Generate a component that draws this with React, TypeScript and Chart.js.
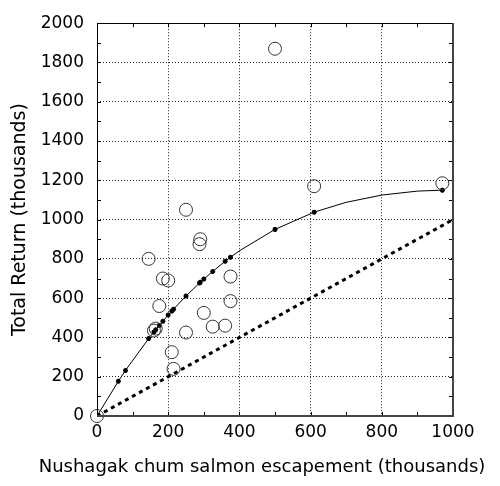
import React, { useEffect, useRef } from "react";
import { Chart, registerables } from "chart.js";

Chart.register(...registerables);

// Observed brood years: escapement (thousands) and total return (thousands)
const escapement = [0, 500, 610, 970, 250, 290, 288, 145, 185, 200, 375, 175, 375, 300, 165, 160, 325, 360, 250, 210, 215];
const totalReturn = [0, 1870, 1170, 1185, 1050, 900, 875, 800, 700, 690, 710, 560, 585, 525, 445, 435, 455, 460, 425, 325, 240];

// Fitted stock-recruit curve
const curveEscapement = [0, 60, 80, 145, 160, 165, 175, 185, 200, 210, 215, 250, 288, 290, 300, 325, 360, 375, 400, 500, 610, 700, 800, 900, 970];
const curveReturn = [0, 177, 232, 394, 428, 439, 461, 482, 514, 534, 544, 611, 677, 681, 697, 736, 788, 808, 841, 950, 1038, 1088, 1125, 1145, 1150];
const curveMarkedEscapement = [0, 60, 80, 145, 160, 165, 175, 185, 200, 210, 215, 250, 288, 290, 300, 325, 360, 375, 500, 610, 970];

// Replacement line
const replacementEscapement = [0, 1000];
const replacementReturn = [0, 1000];

// Axis ticks
const xMinorTicks = [0, 100, 200, 300, 400, 500, 600, 700, 800, 900, 1000];
const yMinorTicks = [0, 100, 200, 300, 400, 500, 600, 700, 800, 900, 1000, 1100, 1200, 1300, 1400, 1500, 1600, 1700, 1800, 1900, 2000];

const X_TITLE = "Nushagak chum salmon escapement (thousands)";
const Y_TITLE = "Total Return (thousands)";

const FONT = "'DejaVu Sans', 'Liberation Sans', sans-serif";

const framePlugin = {
  id: "frame",
  afterDraw(chart: any) {
    const { ctx, chartArea, scales } = chart;
    const { left, right, top, bottom } = chartArea;
    const xs = scales.x;
    const ys = scales.y;
    ctx.save();
    ctx.strokeStyle = "#000";
    ctx.lineWidth = 1;
    ctx.beginPath();
    const tl = 4;
    xMinorTicks.forEach((v) => {
      const px = Math.round(xs.getPixelForValue(v)) + 0.5;
      ctx.moveTo(px, bottom);
      ctx.lineTo(px, bottom - tl);
      ctx.moveTo(px, top);
      ctx.lineTo(px, top + tl);
    });
    yMinorTicks.forEach((v) => {
      const py = Math.round(ys.getPixelForValue(v)) + 0.5;
      ctx.moveTo(left, py);
      ctx.lineTo(left + tl, py);
      ctx.moveTo(right, py);
      ctx.lineTo(right - tl, py);
    });
    ctx.stroke();
    // box
    ctx.beginPath();
    ctx.moveTo(Math.round(left) + 0.5, Math.round(bottom));
    ctx.lineTo(Math.round(left) + 0.5, Math.round(top) + 0.5);
    ctx.lineTo(Math.round(right), Math.round(top) + 0.5);
    ctx.stroke();
    ctx.strokeStyle = "#444";
    ctx.lineWidth = 2;
    ctx.beginPath();
    ctx.moveTo(Math.round(right), Math.round(top));
    ctx.lineTo(Math.round(right), Math.round(bottom));
    ctx.lineTo(Math.round(left), Math.round(bottom));
    ctx.stroke();

    // x-axis title (wider than the plot area, so drawn here without width limit)
    ctx.fillStyle = "#000";
    ctx.font = `18px ${FONT}`;
    ctx.textAlign = "center";
    ctx.textBaseline = "middle";
    ctx.fillText(X_TITLE, 262, 467);
    ctx.restore();
  },
};

export default function App() {
  const canvasRef = useRef<HTMLCanvasElement | null>(null);

  useEffect(() => {
    const canvas = canvasRef.current;
    if (!canvas) return;

    const scatterPoints = escapement.map((s, i) => ({ x: s, y: totalReturn[i] }));
    const curvePoints = curveEscapement.map((s, i) => ({ x: s, y: curveReturn[i] }));
    const replacementPoints = replacementEscapement.map((s, i) => ({ x: s, y: replacementReturn[i] }));

    const chart = new Chart(canvas, {
      type: "scatter",
      data: {
        datasets: [
          {
            label: "Replacement",
            data: replacementPoints,
            showLine: true,
            borderColor: "#000",
            borderWidth: 3,
            borderDash: [4, 4],
            pointRadius: 0,
            fill: false,
            order: 3,
          } as any,
          {
            label: "Fitted",
            data: curvePoints,
            showLine: true,
            borderColor: "#000",
            borderWidth: 1,
            tension: 0,
            pointStyle: "star",
            pointRadius: (ctx: any) => {
              const p = ctx.raw;
              return p && curveMarkedEscapement.includes(p.x) ? 2.5 : 0;
            },
            pointBorderColor: "#000",
            pointBackgroundColor: "#000",
            pointBorderWidth: 1.5,
            fill: false,
            order: 2,
          } as any,
          {
            label: "Observed",
            data: scatterPoints,
            showLine: false,
            pointStyle: "circle",
            pointRadius: 6.5,
            pointBorderWidth: 1,
            pointBorderColor: "#333",
            pointBackgroundColor: "rgba(0,0,0,0)",
            clip: false,
            order: 1,
          } as any,
        ],
      },
      options: {
        animation: false,
        responsive: false,
        devicePixelRatio: 1,
        layout: { padding: { left: 0, right: 47, top: 12, bottom: 0 } },
        plugins: {
          legend: { display: false },
          tooltip: { enabled: false },
        },
        scales: {
          x: {
            type: "linear",
            min: 0,
            max: 1000,
            afterFit: (scale: any) => {
              scale.height = 70;
            },
            ticks: {
              stepSize: 200,
              color: "#000",
              padding: 6,
              font: { family: FONT, size: 17 },
              callback: (v: any) => String(v),
            },
            grid: {
              color: "#222",
              lineWidth: 1,
              drawTicks: false,
            },
            border: { display: false, dash: [1, 2] },
            title: { display: false },
          },
          y: {
            type: "linear",
            min: 0,
            max: 2000,
            afterFit: (scale: any) => {
              scale.width = 97;
            },
            ticks: {
              stepSize: 200,
              color: "#000",
              padding: 13,
              font: { family: FONT, size: 17 },
              callback: (v: any) => String(v),
            },
            grid: {
              color: "#222",
              lineWidth: 1,
              drawTicks: false,
            },
            border: { display: false, dash: [1, 2] },
            title: {
              display: true,
              text: Y_TITLE,
              color: "#000",
              font: { family: FONT, size: 19 },
              padding: { top: 9, bottom: 0 },
            },
          },
        },
      },
      plugins: [framePlugin],
    } as any);

    return () => {
      chart.destroy();
    };
  }, []);

  return (
    <div style={{ position: "absolute", left: 0, top: 0, width: 500, height: 486, background: "#fff" }}>
      <canvas ref={canvasRef} width={500} height={486} style={{ width: 500, height: 486, display: "block" }} />
    </div>
  );
}
